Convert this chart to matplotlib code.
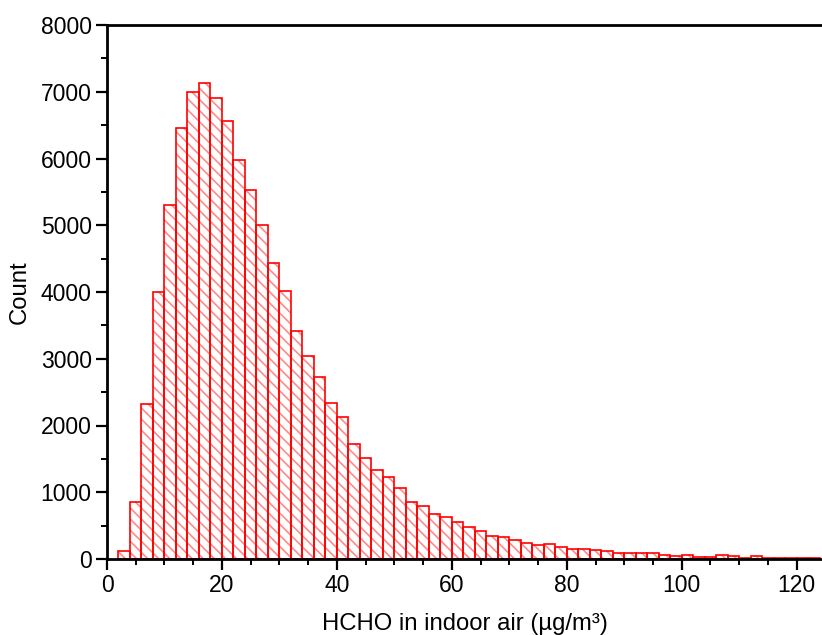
import matplotlib
matplotlib.use("Agg")
import matplotlib.pyplot as plt
import numpy as np

# histogram of HCHO concentration, 2 ug/m3 bins from 2 to 124
bin_width = 2
bin_left = np.arange(2, 124, bin_width)
counts = [
    120, 850, 2320, 4000, 5300, 6450, 6990, 7125, 6900, 6560,
    5980, 5530, 5000, 4430, 4020, 3410, 3040, 2720, 2340, 2120,
    1730, 1520, 1330, 1235, 1065, 855, 795, 675, 628, 552,
    475, 412, 348, 333, 290, 242, 210, 225, 185, 155,
    145, 130, 120, 95, 95, 95, 85, 55, 50, 55,
    35, 35, 55, 40, 20, 45, 20, 15, 15, 15,
    15,
]

plt.rcParams["font.family"] = ["Liberation Sans", "DejaVu Sans"]
plt.rcParams["hatch.linewidth"] = 1.2

fig = plt.figure(figsize=(8.22, 6.35), dpi=100)
ax = fig.add_axes([107 / 822, 1 - 559 / 635, 1 - 107 / 822, (559 - 25) / 635])

# hatch layer (lighter red) then solid red outlines
ax.bar(bin_left, counts, width=bin_width, align="edge", facecolor="white",
       edgecolor="#ff8a8a", hatch="\\\\\\", linewidth=0)
ax.bar(bin_left, counts, width=bin_width, align="edge", fill=False,
       edgecolor="#ff0000", linewidth=1.2)

ax.set_xlim(0, 124.4)
ax.set_ylim(0, 8000)
ax.set_xticks(np.arange(0, 121, 20))
ax.set_xticks(np.arange(0, 125, 5), minor=True)
ax.set_yticks(np.arange(0, 8001, 1000))
ax.set_yticks(np.arange(0, 8001, 500), minor=True)

ax.tick_params(which="major", direction="out", length=8, width=1.6, labelsize=16.5, pad=3)
ax.tick_params(which="minor", direction="out", length=4, width=1.4)
for side in ("left", "bottom", "top"):
    ax.spines[side].set_linewidth(2)
ax.spines["right"].set_visible(False)

ax.set_xlabel("HCHO in indoor air (µg/m³)", fontsize=17.2, labelpad=11)
ax.set_ylabel("Count", fontsize=17.2, labelpad=7)

fig.savefig("out.png", dpi=100)
